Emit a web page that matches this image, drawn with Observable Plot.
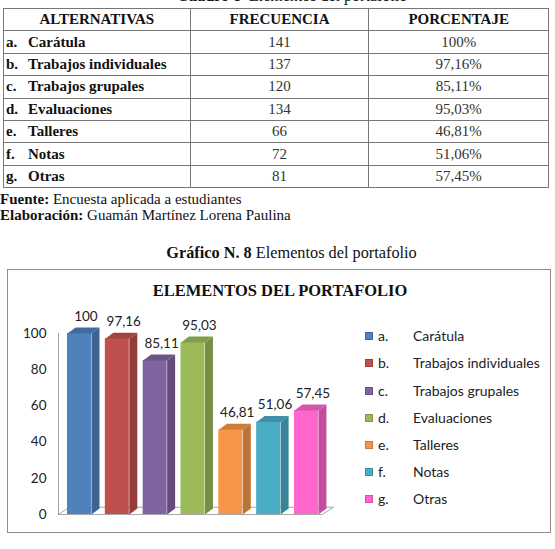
<!DOCTYPE html>
<html>
<head>
<meta charset="utf-8">
<script src="https://cdn.jsdelivr.net/npm/d3@7"></script>
<script src="https://cdn.jsdelivr.net/npm/@observablehq/plot@0.6"></script>
<style>
  html, body { margin: 0; padding: 0; background: #fff; }
  body { width: 555px; height: 549px; position: relative; overflow: hidden; font-family: "Liberation Serif", "Times New Roman", serif; color: #111; }
  .abs { position: absolute; }
  #caption { left: 0; width: 584px; top: -12px; text-align: center; font-size: 16px; line-height: 16px; }
  table { position: absolute; left: 3px; top: 8px; width: 546px; border-collapse: collapse; font-size: 15px; }
  td, th { border: 1px solid #777; height: 21.4px; padding: 0; line-height: 15px; }
  th { font-weight: bold; text-align: center; }
  td.num { text-align: center; color: #333; }
  td.lab { font-weight: bold; padding-left: 2px; }
  td.lab span.k { display: inline-block; width: 22px; }
  #fuente { left: 0; top: 191px; font-size: 15px; line-height: 16px; }
  #gtitle { left: 0; width: 583px; top: 244px; text-align: center; font-size: 16.3px; line-height: 18px; }
  #box { left: 7px; top: 269px; width: 544px; height: 264px; border: 1px solid #8c8c8c; box-sizing: border-box; }
  #ctitle { left: 0; width: 560px; top: 282px; text-align: center; font-size: 16.5px; font-weight: bold; line-height: 18px; }
  #chart { left: 0; top: 300px; }
  #legend { left: 365px; top: 300px; font-family: Lato, "Open Sans", sans-serif; font-size: 14px; color: #222; }
  .li { position: absolute; left: 0; height: 16px; width: 190px; }
  .sw { position: absolute; left: 0; top: 4px; width: 6px; height: 6px; border: 1px solid; }
  .lk { position: absolute; left: 13px; top: 0; line-height: 16px; }
  .ln { position: absolute; left: 48px; top: 0; line-height: 16px; white-space: nowrap; }
</style>
</head>
<body>
<div id="caption" class="abs"><b>Cuadro 8</b>&nbsp; Elementos del portafolio</div>
<table id="tbl"></table>
<div id="fuente" class="abs"><b>Fuente:</b> Encuesta aplicada a estudiantes<br><b>Elaboración:</b> Guamán Martínez Lorena Paulina</div>
<div id="gtitle" class="abs"><b>Gráfico N. 8</b> Elementos del portafolio</div>
<div id="box" class="abs"></div>
<div id="ctitle" class="abs">ELEMENTOS DEL PORTAFOLIO</div>
<div id="chart" class="abs"></div>
<div id="legend" class="abs"></div>
<script>
// ---- data ----
const headers = ["ALTERNATIVAS", "FRECUENCIA", "PORCENTAJE"];
const keys = ["a.", "b.", "c.", "d.", "e.", "f.", "g."];
const names = ["Carátula", "Trabajos individuales", "Trabajos grupales", "Evaluaciones", "Talleres", "Notas", "Otras"];
const frecuencia = [141, 137, 120, 134, 66, 72, 81];
const porcentaje = [100, 97.16, 85.11, 95.03, 46.81, 51.06, 57.45];
const yTicks = [0, 20, 40, 60, 80, 100];
const colors = ["#4F81BD", "#C0504D", "#8064A2", "#9BBB59", "#F79646", "#4BACC6", "#FF66CC"];

const fmt = v => String(v).replace(".", ",");

// ---- table ----
const tbl = document.getElementById("tbl");
tbl.innerHTML =
  `<colgroup><col style="width:187px"><col style="width:179px"><col style="width:180px"></colgroup>` +
  `<tr>${headers.map(h => `<th>${h}</th>`).join("")}</tr>` +
  keys.map((k, i) => `<tr><td class="lab"><span class="k">${k}</span>${names[i]}</td><td class="num">${frecuencia[i]}</td><td class="num">${fmt(porcentaje[i])}%</td></tr>`).join("");

// ---- chart geometry (3D look) ----
const W = 0.634;            // front face width (x units, 1 unit = one bar step)
const DX = 8 / 37.83;       // depth offset in x units
const DY = 6 / 1.81;        // depth offset in y units
const X0 = -0.238;          // axis / floor start

const bars = porcentaje.map((v, i) => ({i, v, color: colors[i], label: fmt(v)}));
const sideFaces = bars.flatMap(b => [
  {i: b.i, x: b.i + W, y: 0}, {i: b.i, x: b.i + W + DX, y: DY},
  {i: b.i, x: b.i + W + DX, y: b.v + DY}, {i: b.i, x: b.i + W, y: b.v}
].map(p => ({...p, fill: d3.color(b.color).darker(0.75).formatHex()})));
const topFaces = bars.flatMap(b => [
  {i: b.i, x: b.i, y: b.v}, {i: b.i, x: b.i + DX, y: b.v + DY},
  {i: b.i, x: b.i + W + DX, y: b.v + DY}, {i: b.i, x: b.i + W, y: b.v}
].map(p => ({...p, fill: d3.color(b.color).darker(0.5).formatHex()})));
const xEnd = bars.length - 1 + W + 0.1;
const floorPoly = [
  {x: X0, y: 0}, {x: xEnd, y: 0}, {x: xEnd + 0.3, y: 4}, {x: X0 + 0.3, y: 4}
];

const chart = Plot.plot({
  width: 345,
  height: 230,
  marginLeft: 58,
  marginRight: 5,
  marginTop: 33,
  marginBottom: 16,
  style: {fontFamily: "Lato, 'Open Sans', sans-serif", fontSize: "13.5px", color: "#222", background: "transparent", overflow: "visible"},
  x: {type: "linear", domain: [X0, 7.217], axis: null},
  y: {domain: [0, 100], ticks: yTicks, tickSize: 0, tickPadding: 12, label: null, tickFormat: d => d},
  color: {type: "identity"},
  marks: [
    Plot.line(floorPoly, {x: "x", y: "y", curve: "linear-closed", stroke: "#a8a8a8", strokeWidth: 1, fill: "#fff"}),
    Plot.ruleX([X0], {y1: 0, y2: 100, stroke: "#a0a0a0"}),
    Plot.rectY(bars, {x1: d => d.i, x2: d => d.i + W, y1: 0, y2: "v", fill: "color"}),
    Plot.line(sideFaces, {x: "x", y: "y", z: "i", fill: "fill", stroke: "none", curve: "linear-closed"}),
    Plot.line(topFaces, {x: "x", y: "y", z: "i", fill: "fill", stroke: "none", curve: "linear-closed"}),
    Plot.text(bars, {x: d => d.i + W / 2 + 0.17, y: "v", text: "label", dy: -17, fill: "#222", fontSize: 13.5})
  ]
});
document.getElementById("chart").appendChild(chart);

// ---- legend ----
const legend = document.getElementById("legend");
const rowY = [36, 63, 91, 118, 145, 172, 199];
legend.innerHTML = keys.map((k, i) => {
  const c = colors[i];
  const bc = d3.color(c).darker(0.6).formatHex();
  return `<div class="li" style="top:${rowY[i] - 8}px"><span class="sw" style="background:${c};border-color:${bc}"></span><span class="lk">${k}</span><span class="ln">${names[i]}</span></div>`;
}).join("");
</script>
</body>
</html>
